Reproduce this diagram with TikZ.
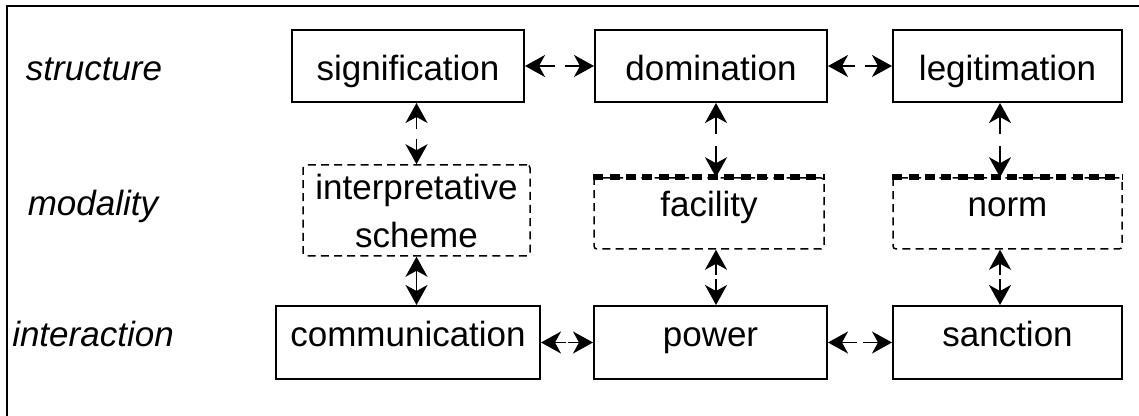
\documentclass[tikz,border=0pt]{standalone}
\usepackage{fontspec}
\setmainfont{Liberation Sans}
\usetikzlibrary{arrows.meta,calc}

% connector with a gap in its middle: #1 half gap, #2 from, #3 to
\newcommand{\linkgap}[3]{%
  \draw[link, shorten <=#1] ($(#2)!.5!(#3)$) -- (#2);
  \draw[link, shorten <=#1] ($(#2)!.5!(#3)$) -- (#3);}

\begin{document}
\begin{tikzpicture}[x=0.5pt, y=-0.5pt,
    every node/.style={font=\fontsize{17.5}{24}\selectfont},
    box/.style={draw, line width=1pt, minimum height=36pt, inner sep=0pt,
      text height=12.6pt, text depth=9.1pt},
    topbox/.style={box, text height=21pt, text depth=6pt},
    modbox/.style={draw, line width=0.75pt, dash pattern=on 4pt off 2.6pt,
      rounded corners=1.5pt, inner sep=0pt, align=center},
    topdash/.style={line width=3pt, dash pattern=on 5pt off 3.2pt},
    rowlabel/.style={font=\fontsize{17.5}{24}\selectfont\itshape, anchor=base},
    link/.style={-{Stealth[length=10pt,width=11pt,inset=3pt]}, line width=0.9pt}]
  \useasboundingbox (0,0) rectangle (1139,416);

  % Frame
  \draw[line width=1pt] (7,416) -- (7,6) -- (1139,6);

  % Row labels
  \node[rowlabel] (lstruct) at (94,81) {structure};
  \node[rowlabel] (lmod) at (93,216) {modality};
  \node[rowlabel] (linter) at (93,346) {interaction};

  % Structure
  \node[topbox, minimum width=116pt] (sig) at (408,66) {signification};
  \node[topbox, minimum width=116pt] (dom) at (711,66) {domination};
  \node[topbox, minimum width=114.5pt] (leg) at (1007.5,66) {legitimation};

  % Modality
  \node[modbox, minimum width=113.5pt, minimum height=45.5pt] (interp) at (416.5,210.5) {interpretative\\scheme};
  \node[modbox, minimum width=115pt, minimum height=35.5pt, text height=12.6pt, text depth=9.1pt] (fac) at (709,213.5) {facility};
  \node[modbox, minimum width=114.5pt, minimum height=35.5pt, text height=12.6pt, text depth=9.1pt] (norm) at (1007.5,213.5) {norm};
  \draw[topdash] (fac.north west) -- (fac.north east);
  \draw[topdash] (norm.north west) -- (norm.north east);

  % Interaction
  \node[box, minimum width=132pt, minimum height=36.5pt] (comm) at (408,342.5) {communication};
  \node[box, minimum width=116.5pt, minimum height=36.5pt] (pow) at (710.5,342.5) {power};
  \node[box, minimum width=114.5pt, minimum height=36.5pt] (sanc) at (1007.5,342.5) {sanction};

  % Anchor points of vertical links
  \coordinate (facn) at ([xshift=3.5pt]fac.north);
  \coordinate (facs) at ([xshift=3.5pt]fac.south);
  \coordinate (normn) at ([xshift=-3.75pt]norm.north);
  \coordinate (norms) at ([xshift=-3.75pt]norm.south);

  % Links
  \linkgap{2.5pt}{sig.east}{dom.west}
  \linkgap{2.5pt}{dom.east}{leg.west}
  \linkgap{0.5pt}{comm.east}{pow.west}
  \linkgap{1.5pt}{pow.east}{sanc.west}
  \linkgap{2.5pt}{interp.north |- sig.south}{interp.north}
  \linkgap{3pt}{facn |- dom.south}{facn}
  \linkgap{3pt}{normn |- leg.south}{normn}
  \linkgap{0pt}{interp.south}{interp.south |- comm.north}
  \linkgap{1pt}{facs}{facs |- pow.north}
  \linkgap{1pt}{norms}{norms |- sanc.north}
\end{tikzpicture}
\end{document}
